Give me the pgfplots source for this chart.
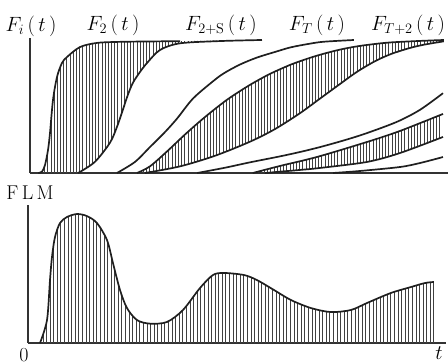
\documentclass[border=0pt]{standalone}
\usepackage{pgfplots}
\pgfplotsset{compat=1.18}
\usepgfplotslibrary{fillbetween}
\usetikzlibrary{patterns.meta}

\begin{document}
\begin{tikzpicture}
\pgfplotsset{
  curve/.style={line width=1.7pt, black!88, smooth, tension=0.5, no markers},
  hatch/.style={draw=none, pattern={Lines[angle=90,distance=3.2pt,line width=1pt]}, pattern color=black!75},
  panel/.style={scale only axis, anchor=south west,
    axis x line=bottom, axis y line=left,
    axis line style={-, line width=1.3pt, black!80},
    xtick=\empty, ytick=\empty, clip=false,
    xmin=0, xmax=100, ymin=0},
}
\tikzset{lab/.style={font=\fontsize{20}{22}\selectfont, inner sep=0pt}}

% ---- upper panel: distribution functions F_i(t)
\pgfplotstableread{
t F
2.0 0
2.87 0.01
3.59 0.06
4.31 0.173
4.78 0.30
5.50 0.549
6.46 0.722
7.65 0.827
8.85 0.872
11.96 0.947
16.03 0.978
21.5 0.986
28.7 0.989
35.9 0.991
}\curveA
\pgfplotstableread{
t F
11.5 0
15.5 0.083
19.1 0.226
20.8 0.346
22.2 0.474
23.4 0.586
24.6 0.677
26.3 0.759
28.0 0.827
31.1 0.925
35.9 0.975
45.5 0.992
55.5 1.0
}\curveB
\pgfplotstableread{
t F
20.8 0
25.1 0.083
28.7 0.195
32.3 0.308
35.2 0.41
39.0 0.56
43.8 0.69
46.4 0.75
50.2 0.815
54.3 0.868
58.6 0.91
62.4 0.945
66.9 0.972
70.3 0.987
77.5 1.0
}\curveC
\pgfplotstableread{
t F
25.6 0
28.7 0.05
32.7 0.16
37.1 0.29
40.7 0.39
43.8 0.47
47.1 0.55
50.2 0.615
53.3 0.675
57.4 0.745
62.4 0.815
66.9 0.865
70.3 0.897
74.2 0.928
78.2 0.952
82.5 0.970
86.4 0.982
93.3 0.993
99.0 1.0
}\curveD
\pgfplotstableread{
t F
27.5 0
35.9 0.05
44.3 0.13
52.6 0.235
58.6 0.33
64.6 0.45
69.4 0.56
74.2 0.67
78.2 0.76
82.5 0.84
86.4 0.895
90.9 0.94
94.3 0.965
99.0 0.99
}\curveE
\pgfplotstableread{
t F
40.0 0
46.7 0.04
52.6 0.08
59.8 0.125
64.6 0.158
69.4 0.195
75.4 0.248
80.6 0.30
87.8 0.385
93.3 0.475
98.8 0.60
}\curveF
\pgfplotstableread{
t F
53.3 0
59.8 0.053
68.6 0.120
80.6 0.233
88.5 0.316
98.8 0.444
}\curveG
\pgfplotstableread{
t F
56.2 0
64.6 0.023
69.4 0.038
80.6 0.083
88.5 0.150
98.8 0.271
}\curveH
\pgfplotstableread{
t F
72.5 0
78.9 0.015
88.5 0.045
93.3 0.075
98.8 0.120
}\curveI
\pgfplotstableread{
t y
2.87 0
4.55 0.178
5.26 0.488
5.74 0.667
6.46 0.822
7.65 0.930
9.33 0.977
11.72 1.0
14.11 0.984
16.50 0.930
18.90 0.798
20.33 0.620
22.01 0.411
23.68 0.271
26.07 0.178
29.18 0.150
33.25 0.163
37.08 0.256
41.14 0.426
44.25 0.527
46.88 0.543
51.67 0.527
54.78 0.488
58.84 0.411
62.91 0.333
67.69 0.271
72.47 0.240
77.26 0.256
81.09 0.310
86.83 0.388
91.61 0.434
94.96 0.465
97.11 0.473
}\flmdata

\begin{axis}[panel, at={(30bp,191bp)}, width=418bp, height=135bp, ymax=1.015]
  \addplot[draw=none, smooth, tension=0.5, name path=A] table {\curveA};
  \addplot[draw=none, smooth, tension=0.5, name path=B] table {\curveB};
  \addplot[draw=none, smooth, tension=0.5, name path=D] table {\curveD};
  \addplot[draw=none, smooth, tension=0.5, name path=E] table {\curveE};
  \addplot[draw=none, smooth, tension=0.5, name path=G] table {\curveG};
  \addplot[draw=none, smooth, tension=0.5, name path=H] table {\curveH};

  % hatched bands first, outlines on top
  \addplot[hatch] fill between[of=A and B];
  \addplot[hatch] fill between[of=D and E];
  \addplot[hatch] fill between[of=G and H];

  \addplot[curve] table {\curveA};
  \addplot[curve] table {\curveB};
  \addplot[curve] table {\curveC};
  \addplot[curve] table {\curveD};
  \addplot[curve] table {\curveE};
  \addplot[curve] table {\curveF};
  \addplot[curve] table {\curveG};
  \addplot[curve] table {\curveH};
  \addplot[curve] table {\curveI};
\end{axis}

% ---- lower panel: FLM
\begin{axis}[panel, at={(28bp,21bp)}, width=418bp, height=138bp, ymax=1.07]
  \addplot[draw=none, smooth, tension=0.5, name path=flm] table {\flmdata};
  \addplot[draw=none, name path=base] coordinates {(2.87,0) (97.11,0)};
  \addplot[hatch, pattern={Lines[angle=90,distance=3.6pt,line width=1pt]}]
    fill between[of=flm and base];
  \addplot[curve] table {\flmdata};
\end{axis}

% ---- labels
\node[lab] at (31bp,338bp) {$F_i\,(\,t\,)$};
\node[lab] at (113bp,339bp) {$F_2\,(\,t\,)$};
\node[lab] at (221bp,339bp) {$F_{2+\mathrm{S}}\,(\,t\,)$};
\node[lab] at (317bp,339bp) {$F_T\,(\,t\,)$};
\node[lab] at (408bp,339bp) {$F_{T+2}\,(\,t\,)$};
\node[lab] at (30bp,171bp) {F\,L\,M};
\node[lab] at (24bp,9bp) {0};
\node[lab] at (439bp,11bp) {$t$};

% page frame
\pgfresetboundingbox
\path[use as bounding box] (0bp,0bp) rectangle (448bp,364bp);
\end{tikzpicture}
\end{document}
